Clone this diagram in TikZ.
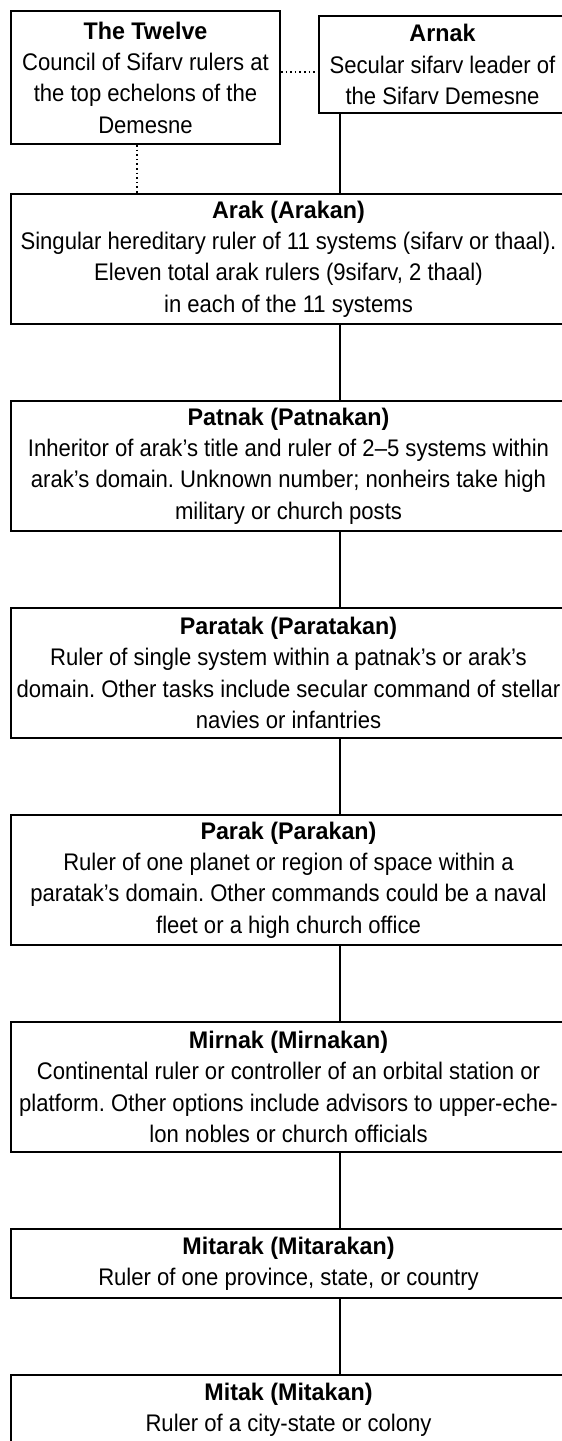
\documentclass[tikz,border=0pt]{standalone}
\usepackage{fontspec}
\setmainfont{Liberation Sans}[FakeStretch=0.92,BoldFeatures={FakeStretch=0.97}]
\begin{document}
\frenchspacing
\begin{tikzpicture}[x=1pt,y=-1pt,
  rank/.style={draw, line width=2pt, anchor=north west, inner sep=0pt,
    align=center, font=\fontsize{24}{31.3}\selectfont},
  link/.style={line width=2.5pt},
  dots/.style={line width=1.6pt, dash pattern=on 1.6pt off 3pt}]
\useasboundingbox (0,0) rectangle (562,1441);
\fill[white] (0,0) rectangle (562,1441);

% columns and rows used by the connectors
\coordinate (spine) at (340,0);
\coordinate (dotcol) at (137,0);
\coordinate (dotrow) at (0,72);

% council and secular leader
\node[rank, minimum width=269pt, minimum height=133pt] (twelve) at (10,10)
  {\textbf{The Twelve}\\Council of Sifarv rulers at\\the top echelons of the\\Demesne};
\node[rank, minimum width=247pt, minimum height=97pt] (arnak) at (318,15)
  {\textbf{Arnak}\\Secular sifarv leader of\\the Sifarv Demesne};

% hereditary ranks
\node[rank, minimum width=555pt, minimum height=130pt] (arak) at (10,193)
  {\textbf{Arak (Arakan)}\\Singular hereditary ruler of 11 systems (sifarv or thaal).\\Eleven total arak rulers (9sifarv, 2 thaal)\\in each of the 11 systems};
\node[rank, minimum width=555pt, minimum height=130pt] (patnak) at (10,400)
  {\textbf{Patnak (Patnakan)}\\Inheritor of arak’s title and ruler of 2–5 systems within\\arak’s domain. Unknown number; nonheirs take high\\military or church posts};
\node[rank, minimum width=555pt, minimum height=130pt] (paratak) at (10,607)
  {\textbf{Paratak (Paratakan)}\\Ruler of single system within a patnak’s or arak’s\\domain. Other tasks include secular command of stellar\\navies or infantries};
\node[rank, minimum width=555pt, minimum height=130pt] (parak) at (10,814)
  {\textbf{Parak (Parakan)}\\Ruler of one planet or region of space within a\\paratak’s domain. Other commands could be a naval\\fleet or a high church office};
\node[rank, minimum width=555pt, minimum height=130pt] (mirnak) at (10,1021)
  {\textbf{Mirnak (Mirnakan)}\\Continental ruler or controller of an orbital station or\\platform. Other options include advisors to upper-eche-\\lon nobles or church officials};
\node[rank, minimum width=555pt, minimum height=69pt] (mitarak) at (10,1228)
  {\textbf{Mitarak (Mitarakan)}\\Ruler of one province, state, or country};
\node[rank, minimum width=555pt, minimum height=69pt] (mitak) at (10,1374)
  {\textbf{Mitak (Mitakan)}\\Ruler of a city-state or colony};

% connectors
\draw[dots] (twelve.east |- dotrow) -- (arnak.west |- dotrow);
\draw[dots] (twelve.south -| dotcol) -- (arak.north -| dotcol);
\draw[link] (arnak.south -| spine) -- (arak.north -| spine);
\draw[link] (arak.south -| spine) -- (patnak.north -| spine);
\draw[link] (patnak.south -| spine) -- (paratak.north -| spine);
\draw[link] (paratak.south -| spine) -- (parak.north -| spine);
\draw[link] (parak.south -| spine) -- (mirnak.north -| spine);
\draw[link] (mirnak.south -| spine) -- (mitarak.north -| spine);
\draw[link] (mitarak.south -| spine) -- (mitak.north -| spine);
\end{tikzpicture}
\end{document}
